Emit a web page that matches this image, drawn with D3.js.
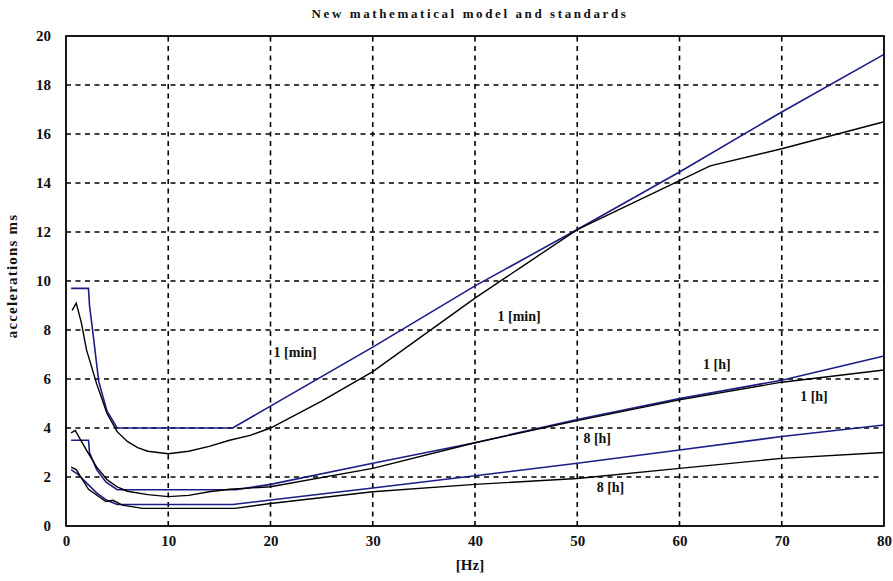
<!DOCTYPE html>
<html>
<head>
<meta charset="utf-8">
<script src="https://cdn.jsdelivr.net/npm/d3@7"></script>
<style>
html,body{margin:0;padding:0;background:#fff;}
svg{display:block;}
</style>
</head>
<body>
<svg id="chart" width="893" height="581"></svg>
<script>
// ---- data ----
const title = "New mathematical model and standards";
const xLabel = "[Hz]";
const yLabel = "accelerations ms";
const xTicks = [0,10,20,30,40,50,60,70,80];
const yTicks = [0,2,4,6,8,10,12,14,16,18,20];

// standards (blue)
const std1min = [[0.5,9.7],[2.2,9.7],[2.3,9.0],[2.6,8.0],[3.2,5.9],[4,4.7],[5,4.0],[16.3,4.0],[30,7.3],[40,9.8],[50,12.1],[60,14.45],[70,16.9],[80,19.25]];
const std1h = [[0.5,3.5],[2.2,3.5],[2.3,3.0],[3.0,2.3],[3.9,1.8],[5,1.48],[16.6,1.48],[20,1.7],[30,2.56],[40,3.4],[50,4.35],[60,5.2],[70,5.95],[80,6.94]];
const std8h = [[0.5,2.3],[1.2,2.1],[2.2,1.68],[3.0,1.35],[4.0,1.05],[5,0.88],[16.3,0.88],[20,1.06],[30,1.55],[40,2.05],[50,2.56],[60,3.1],[70,3.65],[80,4.12]];

// new model (black)
const mod1min = [[0.6,8.8],[1.0,9.1],[1.5,8.3],[2.0,7.2],[3.0,5.8],[4,4.6],[5,3.85],[6,3.45],[7,3.2],[8,3.05],[10,2.95],[12,3.05],[14,3.25],[16,3.5],[18,3.7],[20,4.0],[25,5.1],[30,6.3],[35,7.8],[40,9.3],[45,10.7],[50,12.1],[55,13.1],[60,14.1],[63,14.7],[70,15.4],[80,16.5]];
const mod1h = [[0.5,3.8],[0.9,3.9],[2,3.1],[3,2.4],[4,1.9],[5,1.6],[6,1.42],[8,1.28],[10,1.2],[12,1.25],[14,1.4],[16,1.5],[20,1.6],[30,2.35],[40,3.4],[50,4.3],[60,5.15],[70,5.87],[80,6.37]];
const mod8h = [[0.5,2.4],[1.0,2.3],[2.2,1.5],[3.9,1.0],[4.6,1.05],[5.5,0.85],[7.5,0.72],[16.5,0.72],[20,0.92],[30,1.4],[40,1.7],[50,1.94],[60,2.35],[70,2.76],[80,3.0]];

const seriesNames = ["std1min","std1h","std8h","mod1min","mod1h","mod8h"];
const seriesData = [std1min,std1h,std8h,mod1min,mod1h,mod8h];
const seriesKind = ["standard","standard","standard","model","model","model"];

const curveLabels = ["1 [min]","1 [min]","1 [h]","1 [h]","8 [h]","8 [h]"];
const curveLabelX = [20.3,42.2,62.3,71.8,50.6,51.9];
const curveLabelY = [6.9,8.35,6.4,5.1,3.4,1.4];

// ---- layout ----
const W = 893, H = 581;
const m = {left:66, right:9, top:36, bottom:55};
const svg = d3.select("#chart");
const x = d3.scaleLinear().domain([0,80]).range([m.left, W - m.right]);
const y = d3.scaleLinear().domain([0,20]).range([H - m.bottom, m.top]);
const colors = {standard:"#1c1c86", model:"#000000"};
const serif = "'Liberation Serif','DejaVu Serif',serif";

svg.append("rect").attr("width",W).attr("height",H).attr("fill","#fff");

// grid
const grid = svg.append("g");
grid.selectAll("line.v").data(xTicks.slice(1,-1)).enter().append("line")
  .attr("x1",d=>x(d)).attr("x2",d=>x(d)).attr("y1",y(0)).attr("y2",y(20))
  .attr("stroke","#000").attr("stroke-width",1.6).attr("stroke-dasharray","5,4.5");
grid.selectAll("line.h").data(yTicks.slice(1,-1)).enter().append("line")
  .attr("x1",x(0)).attr("x2",x(80)).attr("y1",d=>y(d)).attr("y2",d=>y(d))
  .attr("stroke","#000").attr("stroke-width",1.6).attr("stroke-dasharray","5,4.5");

// axes
const xAxis = d3.axisBottom(x).tickValues(xTicks).tickSize(0).tickPadding(9);
const yAxis = d3.axisLeft(y).tickValues(yTicks).tickSize(0).tickPadding(15);
const gx = svg.append("g").attr("transform",`translate(0,${y(0)})`).call(xAxis);
const gy = svg.append("g").attr("transform",`translate(${x(0)},0)`).call(yAxis);
[gx,gy].forEach(g=>{
  g.select(".domain").remove();
  g.selectAll("text").attr("font-family",serif).attr("font-weight","bold").attr("font-size",15).attr("fill","#111");
});

// lines
const line = d3.line().x(d=>x(d[0])).y(d=>y(d[1]));
svg.append("g").selectAll("path").data(seriesData).enter().append("path")
  .attr("d",line).attr("fill","none")
  .attr("stroke",(d,i)=>colors[seriesKind[i]])
  .attr("stroke-width",(d,i)=>seriesKind[i]==="standard"?1.6:1.4);

// frame
svg.append("rect").attr("x",x(0)).attr("y",y(20)).attr("width",x(80)-x(0)).attr("height",y(0)-y(20))
  .attr("fill","none").attr("stroke","#000").attr("stroke-width",1.8);

// curve labels
svg.append("g").selectAll("text").data(curveLabels).enter().append("text")
  .attr("x",(d,i)=>x(curveLabelX[i])).attr("y",(d,i)=>y(curveLabelY[i]))
  .attr("font-family",serif).attr("font-weight","bold").attr("font-size",14).attr("fill","#111")
  .text(d=>d);

// title
svg.append("text").attr("x",470).attr("y",18).attr("text-anchor","middle")
  .attr("font-family",serif).attr("font-weight","bold").attr("font-size",13)
  .attr("letter-spacing",2.6).attr("fill","#111").text(title);

// x label
svg.append("text").attr("x",470).attr("y",570).attr("text-anchor","middle")
  .attr("font-family",serif).attr("font-weight","bold").attr("font-size",15).attr("fill","#111").text(xLabel);

// y label
svg.append("text").attr("transform","translate(17,276) rotate(-90)").attr("text-anchor","middle")
  .attr("font-family",serif).attr("font-weight","bold").attr("font-size",15)
  .attr("letter-spacing",1.2).attr("fill","#111").text(yLabel);
</script>
</body>
</html>
